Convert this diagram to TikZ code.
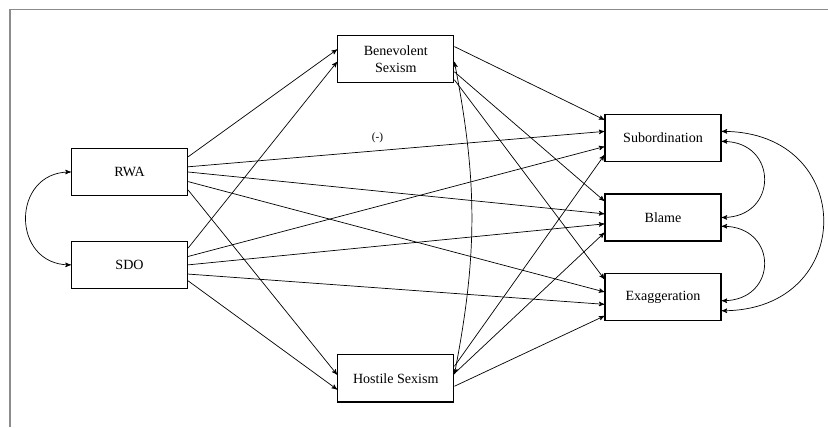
\documentclass[tikz,border=0pt]{standalone}
\usepackage{fontspec}
\setmainfont{Liberation Serif}
\usetikzlibrary{arrows, positioning}
\tikzset{
>=stealth', % small filled arrow heads
node distance=1cm, % default gap, overridden where needed
var/.style={draw=black, line width=0.9pt, minimum width=2.9cm, minimum height=1.18cm, align=center, inner sep=2pt, font=\fontsize{10}{12}\selectfont}, % observed variables
eff/.style={->, line width=0.5pt}, % direct paths
cov/.style={<->, line width=0.5pt}, % correlations
}

\begin{document}
\begin{tikzpicture}
      \useasboundingbox (-3.2375,4.3) rectangle (17.4625,-6.375);
      \draw[black!45, line width=1pt] (-2.9875,-6.375) -- (-2.9875,4.0675) -- (17.4625,4.0675);

      \node[var] (RWA) {RWA};
      \node[var, below=1.11cm of RWA] (SDO) {SDO};
      \node[var, right=3.725cm of RWA, yshift=2.825cm] (BS) {Benevolent\\Sexism};
      \node[var, below=6.77cm of BS] (HS) {Hostile Sexism};
      \node[var, right=3.75cm of BS, yshift=-1.97cm] (Sub) {Subordination};
      \node[var, below=0.78cm of Sub] (Blame) {Blame};
      \node[var, below=0.78cm of Blame] (Exag) {Exaggeration};

      % predictors -> sexism and outcomes
      \path[eff] ([yshift=0.38cm]RWA.east) edge ([yshift=0.24cm]BS.west)
      ([yshift=0.13cm]RWA.east) edge node[pos=0.455, above=2pt, font=\footnotesize]{(-)} ([yshift=0.16cm]Sub.west)
      (RWA.east) edge ([yshift=0.09cm]Blame.west)
      ([yshift=-0.24cm]RWA.east) edge ([yshift=0.13cm]Exag.west)
      ([yshift=-0.45cm]RWA.east) edge ([yshift=0.09cm]HS.west)
      ([yshift=0.42cm]SDO.east) edge ([yshift=-0.07cm]BS.west)
      ([yshift=0.21cm]SDO.east) edge ([yshift=-0.22cm]Sub.west)
      (SDO.east) edge ([yshift=-0.16cm]Blame.west)
      ([yshift=-0.23cm]SDO.east) edge ([yshift=-0.18cm]Exag.west)
      ([yshift=-0.40cm]SDO.east) edge ([yshift=-0.28cm]HS.west);

      % sexism -> outcomes
      \path[eff] ([yshift=0.31cm]BS.east) edge ([yshift=0.45cm]Sub.west)
      ([yshift=-0.32cm]BS.east) edge ([yshift=0.41cm]Blame.west)
      ([yshift=-0.52cm]BS.east) edge ([yshift=0.45cm]Exag.west)
      ([yshift=0.3cm]HS.east) edge ([yshift=-0.43cm]Sub.west)
      ([yshift=0.12cm]HS.east) edge ([yshift=-0.38cm]Blame.west)
      ([yshift=-0.2cm]HS.east) edge ([yshift=-0.47cm]Exag.west);

      % correlations
      \draw[cov] ([yshift=-0.07cm]BS.east) to[bend left=11] ([yshift=0.1cm]HS.east);
      \draw[cov] (RWA.west) .. controls +(-1.5,0) and +(-1.5,0) .. (SDO.west);
      \draw[cov] ([yshift=-0.09cm]Sub.east) .. controls +(1.42,0) and +(1.42,0) .. (Blame.east);
      \draw[cov] ([yshift=-0.22cm]Blame.east) .. controls +(1.42,0) and +(1.42,0) .. ([yshift=-0.09cm]Exag.east);
      \draw[cov] ([yshift=0.16cm]Sub.east) .. controls +(3.39,0) and +(3.39,0) .. ([yshift=-0.34cm]Exag.east);
    \end{tikzpicture}
\end{document}
